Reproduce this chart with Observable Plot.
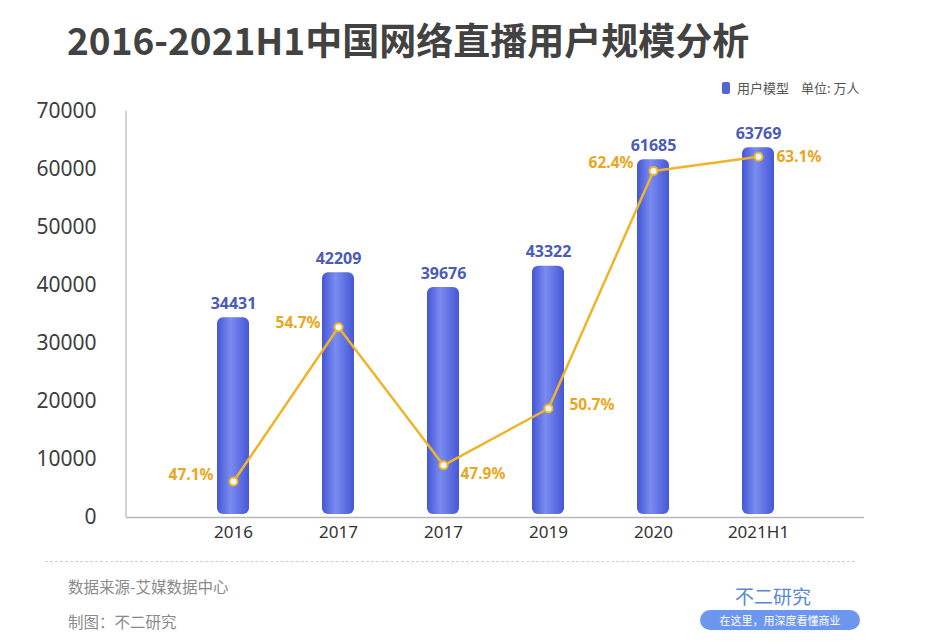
<!DOCTYPE html>
<html>
<head>
<meta charset="utf-8">
<script src="https://cdn.jsdelivr.net/npm/d3@7"></script>
<script src="https://cdn.jsdelivr.net/npm/@observablehq/plot@0.6"></script>
<style>
  body { margin: 0; background: #fff; font-family: "Noto Sans CJK SC", "Noto Sans", sans-serif; }
  #wrap { position: relative; width: 940px; height: 644px; overflow: hidden; background: #fff; }
  #title { position: absolute; left: 67px; top: 12px; font-size: 37px; font-weight: 700; color: #424242; white-space: nowrap; }
  #legend { position: absolute; left: 722px; top: 78px; font-size: 13px; color: #555; display: flex; align-items: center; white-space: nowrap; }
  #legend .sw { width: 8px; height: 12px; background: #5366d9; border-radius: 2px; margin-right: 7px; }
  #chart { position: absolute; left: 0; top: 90px; }
  #sep { position: absolute; left: 45px; top: 561px; width: 810px; border-top: 1px dashed #cfcfcf; }
  .foot { position: absolute; left: 68px; font-size: 15.5px; color: #8a8a8a; white-space: nowrap; }
  #brand { position: absolute; left: 735px; top: 582px; font-size: 19px; color: #5a86d6; white-space: nowrap; }
  #pill { position: absolute; left: 700px; top: 610px; width: 160px; height: 20px; border-radius: 10px; background: #6d97ee; color: #fff; font-size: 11px; line-height: 20px; text-align: center; white-space: nowrap; }
</style>
</head>
<body>
<div id="wrap">
  <div id="title">2016-2021H1中国网络直播用户规模分析</div>
  <div id="legend"><span class="sw"></span><span>用户模型</span><span style="margin-left:12px">单位: 万人</span></div>
  <div id="chart"></div>
  <div id="sep"></div>
  <div class="foot" style="top:575px">数据来源-艾媒数据中心</div>
  <div class="foot" style="top:610px">制图：不二研究</div>
  <div id="brand">不二研究</div>
  <div id="pill">在这里，用深度看懂商业</div>
</div>
<script>
// ---- data ----
const years = ["2016", "2017", "2017", "2019", "2020", "2021H1"];
const users = [34431, 42209, 39676, 43322, 61685, 63769];      // 万人
const penetration = [47.1, 54.7, 47.9, 50.7, 62.4, 63.1];       // %
const yTicks = [0, 10000, 20000, 30000, 40000, 50000, 60000, 70000];

// secondary (hidden) axis for the percentage line: 45.33%..65.33% spans the same height as 0..70000
const pctDomain = [45.33, 65.33];
const pctToY = d3.scaleLinear().domain(pctDomain).range([0, 70000]);

const idx = d3.range(years.length);
const orange = "#f0b429";
const orangeText = "#e9a620";

const gradientDefs = () => {
  const defs = d3.create("svg:defs");
  const g = defs.append("linearGradient").attr("id", "barGrad").attr("x1", 0).attr("x2", 1).attr("y1", 0).attr("y2", 0);
  g.append("stop").attr("offset", "0%").attr("stop-color", "#4456d4");
  g.append("stop").attr("offset", "42%").attr("stop-color", "#7a8cf0");
  g.append("stop").attr("offset", "100%").attr("stop-color", "#4657d6");
  return defs.node();
};

const leftLine = (index, scales, values, dimensions) => {
  const g = d3.create("svg:line")
    .attr("x1", dimensions.marginLeft).attr("x2", dimensions.marginLeft)
    .attr("y1", scales.y(70000)).attr("y2", scales.y(0))
    .attr("stroke", "#c4c4c4").attr("stroke-width", 1.5);
  return g.node();
};

const pctLabel = (which, opts) => Plot.text(idx.filter(i => which.includes(i)), {
  x: i => i, y: i => pctToY(penetration[i]), text: i => penetration[i].toFixed(1) + "%",
  fill: orangeText, fontWeight: "bold", fontSize: 15.5, ...opts
});

const chart = Plot.plot({
  width: 940,
  height: 460,
  marginLeft: 126,
  marginRight: 76,
  marginTop: 21,
  marginBottom: 33,
  style: { fontFamily: "'Noto Sans', 'Noto Sans CJK SC', sans-serif", background: "transparent" },
  x: { type: "band", domain: idx, paddingInner: 0.7, paddingOuter: 0.86, axis: null },
  y: { domain: [0, 70000], axis: null },
  marks: [
    gradientDefs,
    Plot.axisY({ ticks: yTicks, tickSize: 0, tickPadding: 30, fontSize: 21, color: "#3d3d3d", tickFormat: d => String(d), label: null }),
    Plot.axisX({ tickSize: 0, tickPadding: 8, fontSize: 17, color: "#333", tickFormat: i => years[i], label: null }),
    Plot.barY(idx, { x: i => i, y: i => users[i], fill: "url(#barGrad)", rx: 6, insetBottom: 3 }),
    Plot.ruleY([0], { stroke: "#b8b8b8", strokeWidth: 1.5 }),
    leftLine,
    Plot.text(idx, { x: i => i, y: i => users[i], text: i => String(users[i]), dy: -14, fill: "#4b5bb6", fontWeight: "bold", fontSize: 16 }),
    Plot.line(idx, { x: i => i, y: i => pctToY(penetration[i]), stroke: orange, strokeWidth: 2.5 }),
    Plot.dot(idx, { x: i => i, y: i => pctToY(penetration[i]), r: 4, fill: "white", stroke: orange, strokeWidth: 2 }),
    pctLabel([0], { textAnchor: "end", dx: -20, dy: -7 }),
    pctLabel([1], { textAnchor: "end", dx: -18, dy: -4 }),
    pctLabel([2], { textAnchor: "start", dx: 17, dy: 9 }),
    pctLabel([3], { textAnchor: "start", dx: 21, dy: -3 }),
    pctLabel([4], { textAnchor: "end", dx: -20, dy: -8 }),
    pctLabel([5], { textAnchor: "start", dx: 18, dy: 0 })
  ]
});
document.getElementById("chart").appendChild(chart);
</script>
</body>
</html>
